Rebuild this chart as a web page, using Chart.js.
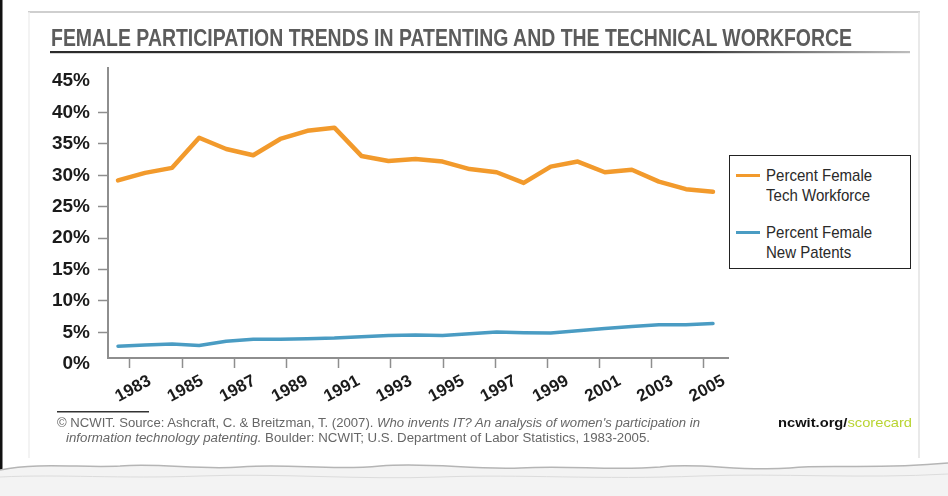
<!DOCTYPE html>
<html>
<head>
<meta charset="utf-8">
<script src="https://cdn.jsdelivr.net/npm/chart.js@4.4.1/dist/chart.umd.min.js"></script>
<style>
html,body{margin:0;padding:0;background:#fff;}
#wrap{position:relative;width:948px;height:496px;overflow:hidden;background:#fff;font-family:'Liberation Sans',Arial,sans-serif;}
#bg{position:absolute;left:0;top:0;}
#c{position:absolute;left:0;top:0;}
.t{position:absolute;white-space:nowrap;transform-origin:0 50%;}
#legend{position:absolute;left:729px;top:155px;width:182px;height:114px;border:1.5px solid #222;box-sizing:border-box;background:#fff;}
.li{position:absolute;left:6px;}
.sw{position:absolute;left:0;width:24px;height:3px;}
.lt{position:absolute;left:30px;font-size:17px;line-height:20px;color:#2a2a2a;white-space:nowrap;}
.lt div{transform-origin:0 50%;}
</style>
</head>
<body>
<div id="wrap">
<svg id="bg" width="948" height="496">
  <rect x="0" y="0" width="2.5" height="484" fill="#111"/>
  <line x1="28" y1="12" x2="920" y2="12" stroke="#cfcfcf" stroke-width="2"/>
  <line x1="919" y1="12" x2="919" y2="458" stroke="#e2e2e2" stroke-width="1.5"/>
  <line x1="29" y1="12" x2="29" y2="458" stroke="#efefef" stroke-width="1.5"/>
  <path d="M0,470 C40,462 80,468 120,466 C160,463 200,470 240,467 C290,463 330,471 380,466 C430,462 470,470 520,468 C570,465 610,471 660,467 C700,462 740,472 790,468 C830,464 870,470 948,463 L948,496 L0,496 Z" fill="#f3f3f3"/>
  <path d="M0,470 C40,462 80,468 120,466 C160,463 200,470 240,467 C290,463 330,471 380,466 C430,462 470,470 520,468 C570,465 610,471 660,467 C700,462 740,472 790,468 C830,464 870,470 948,463" fill="none" stroke="#b5b5b5" stroke-width="1.5"/>
  <path d="M0,477 C60,474 120,479 200,476 C280,473 360,480 440,477 C520,474 600,480 700,476 C780,473 860,479 948,474" fill="none" stroke="#dcdcdc" stroke-width="1"/>
  <defs><linearGradient id="ul" x1="0" x2="1" y1="0" y2="0"><stop offset="0" stop-color="#2b2b2b"/><stop offset="0.75" stop-color="#3a3a3a"/><stop offset="1" stop-color="#bdbdbd"/></linearGradient></defs>
  <rect x="50" y="51" width="860" height="2.2" fill="url(#ul)"/>
  <rect x="57" y="411" width="92" height="1.5" fill="#333"/>
</svg>
<canvas id="c" width="948" height="496"></canvas>
<div id="title" class="t" style="left:51px;top:26px;font-size:24px;line-height:24px;font-weight:bold;color:#5c5c5c;">FEMALE PARTICIPATION TRENDS IN PATENTING AND THE TECHNICAL WORKFORCE</div>
<div id="legend"></div>
<div id="f1" class="t" style="left:57px;top:416px;font-size:12px;line-height:14px;color:#666;">© NCWIT. Source: Ashcraft, C. &amp; Breitzman, T. (2007). <i>Who invents IT? An analysis of women's participation in</i></div>
<div id="f2" class="t" style="left:66px;top:431px;font-size:12px;line-height:14px;color:#666;"><i>information technology patenting.</i> Boulder: NCWIT; U.S. Department of Labor Statistics, 1983-2005.</div>
<div id="brand" class="t" style="left:778px;top:415px;font-size:13px;line-height:16px;font-weight:bold;color:#111;">ncwit.org/<span style="color:#b9d432;font-weight:normal;">scorecard</span></div>
</div>
<script>
// ---- data ----
const years = [1983,1984,1985,1986,1987,1988,1989,1990,1991,1992,1993,1994,1995,1996,1997,1998,1999,2000,2001,2002,2003,2004,2005];
const techWorkforce = [29.2,30.4,31.2,36.0,34.2,33.2,35.8,37.1,37.6,33.1,32.3,32.6,32.2,31.0,30.5,28.8,31.4,32.2,30.5,30.9,29.0,27.8,27.4];
const newPatents = [2.8,3.0,3.15,2.9,3.6,3.9,3.9,4.0,4.1,4.3,4.5,4.6,4.5,4.8,5.05,4.95,4.9,5.25,5.6,5.95,6.2,6.2,6.4];
const xTickYears = [1983,1985,1987,1989,1991,1993,1995,1997,1999,2001,2003,2005];
const yTickValues = [0,5,10,15,20,25,30,35,40,45];
const seriesLabels = [['Percent Female','Tech Workforce'],['Percent Female','New Patents']];
const seriesColors = ['#F29A2C','#4A9CC3'];

// ---- text fitting ----
function fitEl(el, target){
  el.style.display = 'inline-block';
  const w = el.getBoundingClientRect().width;
  el.style.transform = 'scaleX(' + (target / w) + ')';
}
function fitWidth(id, target){ fitEl(document.getElementById(id), target); }
fitWidth('title', 801);
fitWidth('f1', 643);
fitWidth('f2', 584);
fitWidth('brand', 134);

// ---- legend ----
const lg = document.getElementById('legend');
const legendTops = [10, 67];
const legendScale = 0.885;
seriesLabels.forEach((lines, i) => {
  const item = document.createElement('div');
  item.className = 'li';
  item.style.top = legendTops[i] + 'px';
  const sw = document.createElement('div');
  sw.className = 'sw';
  sw.style.background = seriesColors[i];
  sw.style.top = '8px';
  item.appendChild(sw);
  const tx = document.createElement('div');
  tx.className = 'lt';
  lines.forEach(s => {
    const d = document.createElement('div');
    d.textContent = s;
    d.style.transform = 'scaleX(' + legendScale + ')';
    tx.appendChild(d);
  });
  item.appendChild(tx);
  lg.appendChild(item);
});

// ---- chart ----
const axisColor = '#8e8e8e';
const tickFont = {family:"'Liberation Sans', Arial, sans-serif", weight:'bold'};
new Chart(document.getElementById('c').getContext('2d'), {
  type: 'line',
  data: {
    datasets: [
      {label: seriesLabels[0].join(' '), data: years.map((y,i)=>({x:y, y:techWorkforce[i]})), borderColor: seriesColors[0], borderWidth: 4.5, pointRadius: 0, tension: 0, borderJoinStyle:'round', borderCapStyle:'round', xAxisID:'x', yAxisID:'y'},
      {label: seriesLabels[1].join(' '), data: years.map((y,i)=>({x:y, y:newPatents[i]})), borderColor: seriesColors[1], borderWidth: 3.5, pointRadius: 0, tension: 0, borderJoinStyle:'round', borderCapStyle:'round', xAxisID:'x', yAxisID:'y'}
    ]
  },
  options: {
    responsive: false,
    animation: false,
    layout: {padding: {left: 40, top: 68, right: 220, bottom: 78}},
    plugins: {legend: {display: false}, tooltip: {enabled: false}, title: {display: false}},
    scales: {
      x: {type: 'linear', display: false, min: 1982.63, max: 2005.555},
      xt: {
        type: 'linear', position: 'bottom', min: 1982.157, max: 2005.92,
        afterBuildTicks: s => { s.ticks = xTickYears.map(v => ({value: v})); },
        afterFit: s => { s.height = 60; },
        grid: {drawOnChartArea: false, drawTicks: true, tickLength: 10, tickColor: axisColor, tickWidth: 1.5},
        border: {display: true, color: axisColor, width: 2},
        ticks: {autoSkip: false, minRotation: 28, maxRotation: 28, labelOffset: 20, padding: 3, color: '#1b1b1b',
                font: Object.assign({size: 17}, tickFont), callback: v => String(v)}
      },
      y: {
        type: 'linear', min: 0.92, max: 47.1,
        afterBuildTicks: s => { s.ticks = yTickValues.map(v => ({value: v})); },
        afterFit: s => { s.width = 68; },
        grid: {drawOnChartArea: false, drawTicks: true, tickLength: 10, tickWidth: 1.5,
               tickColor: c => (c.tick && (c.tick.value === 0 || c.tick.value === 45)) ? 'rgba(0,0,0,0)' : axisColor},
        border: {display: true, color: axisColor, width: 2},
        ticks: {padding: 8, color: '#1b1b1b', font: Object.assign({size: 19}, tickFont), callback: v => v + '%'}
      }
    }
  }
});
</script>
</body>
</html>
